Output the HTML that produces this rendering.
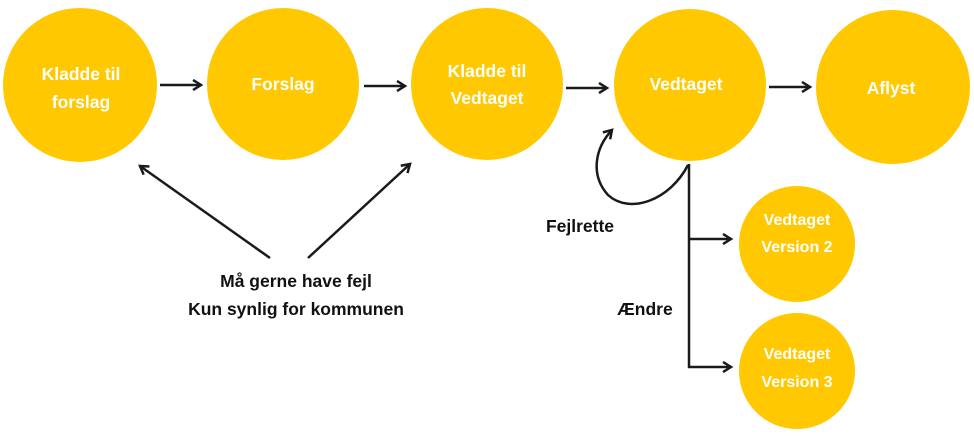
<!DOCTYPE html>
<html><head><style>
body{margin:0;width:974px;height:434px;background:#fff;overflow:hidden}
svg text{font-family:"Liberation Sans",sans-serif;font-weight:bold}
</style></head><body>
<svg width="974" height="434" viewBox="0 0 974 434">
<defs><marker id="a" markerWidth="12" markerHeight="12" refX="9" refY="6" orient="auto" markerUnits="userSpaceOnUse"><path d="M1,1 L9,6 L1,11" fill="none" stroke="#1a1a1a" stroke-width="2.5"/></marker></defs>
<g fill="#FFC800">
<circle cx="80" cy="85" r="77"/>
<circle cx="283" cy="84" r="76"/>
<circle cx="487" cy="84" r="76"/>
<circle cx="690" cy="85" r="76"/>
<circle cx="893" cy="87" r="77"/>
<circle cx="797" cy="244" r="58"/>
<circle cx="797" cy="371" r="58"/>
</g>
<g fill="#fff" font-size="17.5" text-anchor="middle">
<text x="81" y="80">Kladde til</text><text x="81" y="108">forslag</text>
<text x="283" y="90">Forslag</text>
<text x="487" y="77">Kladde til</text><text x="487" y="104">Vedtaget</text>
<text x="686" y="90">Vedtaget</text>
<text x="891" y="94">Aflyst</text>
<text x="797" y="225" font-size="16">Vedtaget</text><text x="797" y="252" font-size="16">Version 2</text>
<text x="797" y="359" font-size="16">Vedtaget</text><text x="797" y="387" font-size="16">Version 3</text>
</g>
<g stroke="#1a1a1a" stroke-width="2.5" fill="none" marker-end="url(#a)">
<line x1="160" y1="85" x2="201" y2="85"/>
<line x1="364" y1="86" x2="405" y2="86"/>
<line x1="566" y1="88" x2="607" y2="88"/>
<line x1="769" y1="87" x2="810" y2="87"/>
<line x1="270" y1="258" x2="140" y2="166"/>
<line x1="308" y1="258" x2="410" y2="164"/>
<path d="M688,165 C670,200 630,215 608,195 C590,175 595,148 612,130"/>
<path d="M689,164 L689,367 L731,367" marker-end="url(#a)"/>
<line x1="689" y1="239" x2="731" y2="239"/>
</g>
<g fill="#111" font-size="17.5" text-anchor="middle">
<text x="296" y="287">Må gerne have fejl</text>
<text x="296" y="315">Kun synlig for kommunen</text>
<text x="580" y="232">Fejlrette</text>
<text x="645" y="315">Ændre</text>
</g>
</svg>
</body></html>
